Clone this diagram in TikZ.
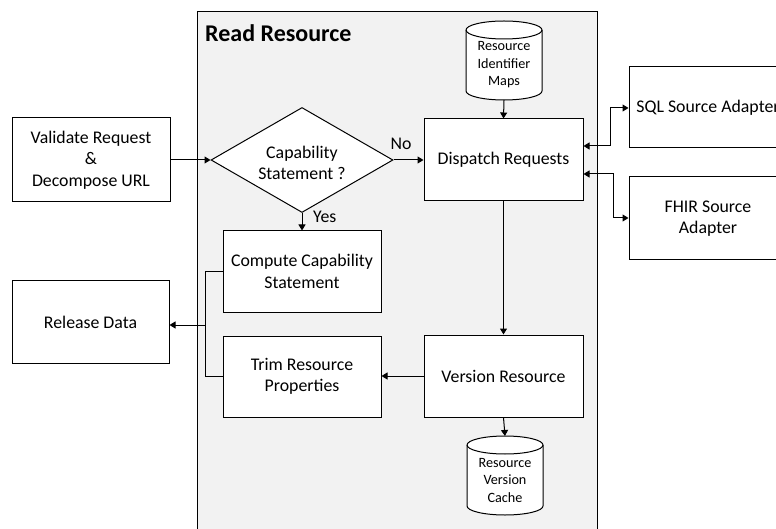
\documentclass[tikz,border=0pt]{standalone}
\usepackage{fontspec}
\setmainfont{Carlito}
\usetikzlibrary{shapes.geometric,arrows.meta}
\definecolor{panel}{HTML}{F2F2F2}
\tikzset{
  box/.style={draw, fill=white, line width=1pt, minimum width=158pt, minimum height=82pt, align=center, font=\fontsize{17.8}{21.5}\selectfont, inner sep=0pt},
  arr/.style={line width=1pt, -{Triangle[length=6pt,width=7pt]}},
  darr/.style={line width=1pt, {Triangle[length=6pt,width=7pt]}-{Triangle[length=6pt,width=7pt]}},
  plain/.style={line width=1pt},
  cylline/.style={draw, fill=white, line width=1pt},
  cyltext/.style={align=center, font=\fontsize{14.2}{17.5}\selectfont, inner sep=0pt},
  lbl/.style={font=\fontsize{17.8}{21.5}\selectfont, inner sep=0pt}
}
\begin{document}
\begin{tikzpicture}[x=1pt, y=-1pt]
\useasboundingbox (0,0) rectangle (776,529);
\clip (0,0) rectangle (776,529);
% container
\draw[fill=panel, line width=1pt] (197,12) rectangle (597,540);
\node[anchor=west, font=\fontsize{24}{28}\selectfont\bfseries, inner sep=0pt] (title) at (205,33) {Read Resource};

% cylinder 1: x 466-542, y 21-100
\path[cylline] (466,30) -- (466,91) arc[start angle=180, end angle=0, x radius=38, y radius=9] -- (542,30) arc[start angle=0, end angle=-180, x radius=38, y radius=9] -- cycle;
\draw[line width=1pt] (466,30) arc[start angle=180, end angle=0, x radius=38, y radius=9];
\node[cyltext] (maps) at (504,65) {Resource\\Identifier\\Maps};
\coordinate (mapsbot) at (504,100);
% cylinder 2: x 467-543, y 436-515
\path[cylline] (467,445) -- (467,506) arc[start angle=180, end angle=0, x radius=38, y radius=9] -- (543,445) arc[start angle=0, end angle=-180, x radius=38, y radius=9] -- cycle;
\draw[line width=1pt] (467,445) arc[start angle=180, end angle=0, x radius=38, y radius=9];
\node[cyltext] (cache) at (505,480) {Resource\\Version\\Cache};
\coordinate (cachetop) at (505,436);

% boxes
\node[box, minimum height=84pt] (validate) at (91,160) {Validate Request\\\&\\Decompose URL};
\node[draw, fill=white, line width=1pt, diamond, minimum width=182pt, minimum height=105pt, inner sep=0pt] (cap) at (302,160) {};
\node[align=center, font=\fontsize{17.8}{21.5}\selectfont, inner sep=0pt] (captext) at (302,163) {Capability\\Statement ?};
\node[box, minimum width=159pt] (dispatch) at (503.5,160) {Dispatch Requests};
\node[box, minimum width=158pt, minimum height=81pt] (sql) at (708,107.5) {SQL Source Adapter};
\node[box, minimum width=158pt, minimum height=83pt] (fhir) at (708,218.5) {FHIR Source\\Adapter};
\node[box, minimum height=81pt] (compute) at (302,271.5) {Compute Capability\\Statement};
\node[box, minimum height=81pt] (trim) at (302,376.5) {Trim Resource\\Properties};
\node[box, minimum width=157pt] (release) at (90.5,322) {Release Data};
\node[box, minimum width=159pt] (version) at (503.5,376) {Version Resource};

% connectors
\draw[arr] (validate.east) -- (cap.west);
\draw[arr] (cap.east) -- (dispatch.west);
\node[lbl] (no) at (401,144) {No};
\draw[arr] (cap.south) -- (compute.north);
\node[lbl, anchor=west] (yes) at (313,217) {Yes};
\draw[arr] (mapsbot) -- (dispatch.north);
\draw[arr] (dispatch.south) -- (version.north);
\draw[arr] (version.west) -- (trim.east |- version.west);
\draw[arr] (version.south) -- (cachetop);

\coordinate (j1) at (610,146);
\coordinate (j2) at (610,108);
\draw[darr] (dispatch.east |- j1) -- (j1) -- (j2) -- (sql.west |- j2);
\coordinate (k1) at (613,174);
\coordinate (k2) at (613,218);
\draw[darr] (dispatch.east |- k1) -- (k1) -- (k2) -- (fhir.west |- k2);

\coordinate (c1) at (205,272);
\coordinate (c2) at (205,376.5);
\coordinate (c3) at (205,325);
\draw[plain] (compute.west |- c1) -- (c1) -- (c2) -- (trim.west);
\draw[arr] (c3) -- (release.east |- c3);
\end{tikzpicture}
\end{document}
